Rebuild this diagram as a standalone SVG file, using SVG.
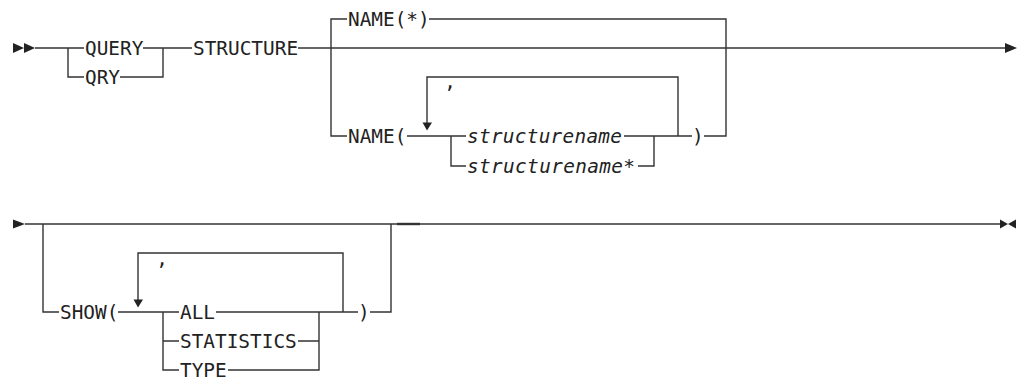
<svg xmlns="http://www.w3.org/2000/svg" width="1027" height="381" viewBox="0 0 1027 381">
<style>
.ln{fill:none;stroke:#333;stroke-width:1.4}
.ah{fill:#222;stroke:none}
text{font-family:"DejaVu Sans Mono","Liberation Mono",monospace;font-size:19.4px;fill:#222}
.it{font-style:italic}
</style>
<rect width="1027" height="381" fill="#fff"/>
<g id="connectors">
<!-- row 1 -->
<path class="ah" d="M13,43 L24,48 L13,53 Z M24,43 L35,48 L24,53 Z"/>
<path class="ln" d="M35,48 H84 M68,48 V77 H84 M143,48 H192 M120,77 H163 V48"/>
<path class="ln" d="M298,48 H1006"/>
<path class="ah" d="M1005,43 L1017,48 L1005,53 Z"/>
<path class="ln" d="M331,48 V136 H347 M331,48 V19 H347 M429,19 H726 V136 H704 M726,48 V19"/>
<path class="ln" d="M407,136 H466 M451,136 V166 H466 M624,136 H692 M638,166 H654 V136"/>
<path class="ln" d="M678,136 V77 H427 V123"/>
<path class="ah" d="M422.5,122.5 L432,122.5 L427,130.5 Z"/>
<!-- row 2 -->
<path class="ah" d="M13,219.5 L25,224 L13,228.5 Z"/>
<path class="ln" d="M25,224 H1001"/>
<path class="ln" d="M43,224 V312 H59 M118,312 H179 M163,312 V370 H179 M163,341 H179"/>
<path class="ln" d="M216,312 H358 M298,341 H319 M228,370 H319 V312"/>
<path class="ln" d="M343,312 V253 H138 V300"/>
<path class="ah" d="M133.5,299.5 L143,299.5 L138,307.5 Z"/>
<path class="ln" d="M370,312 H391 V224"/>
<path d="M397,224 H420" fill="none" stroke="#333" stroke-width="2.4"/>
<path class="ah" d="M1000,219.5 L1008,224 L1000,228.5 Z M1016,219.5 L1008,224 L1016,228.5 Z"/>
</g>
<g id="query"><text x="85" y="55">QUERY</text></g>
<g id="qry"><text x="85" y="84">QRY</text></g>
<g id="structure"><text x="193" y="55">STRUCTURE</text></g>
<g id="name-star"><text x="348" y="26">NAME(*)</text></g>
<g id="name-open"><text x="348" y="143">NAME(</text></g>
<g id="comma1"><text x="450" y="88" text-anchor="middle">,</text></g>
<g id="structurename"><text class="it" x="467" y="143" textLength="155">structurename</text></g>
<g id="structurename-star"><text class="it" x="467" y="173" textLength="168">structurename*</text></g>
<g id="name-close"><text x="692" y="143">)</text></g>
<g id="show-open"><text x="60" y="319">SHOW(</text></g>
<g id="comma2"><text x="162" y="265" text-anchor="middle">,</text></g>
<g id="all"><text x="180" y="319">ALL</text></g>
<g id="statistics"><text x="180" y="348">STATISTICS</text></g>
<g id="type"><text x="180" y="377">TYPE</text></g>
<g id="show-close"><text x="358" y="319">)</text></g>
</svg>
